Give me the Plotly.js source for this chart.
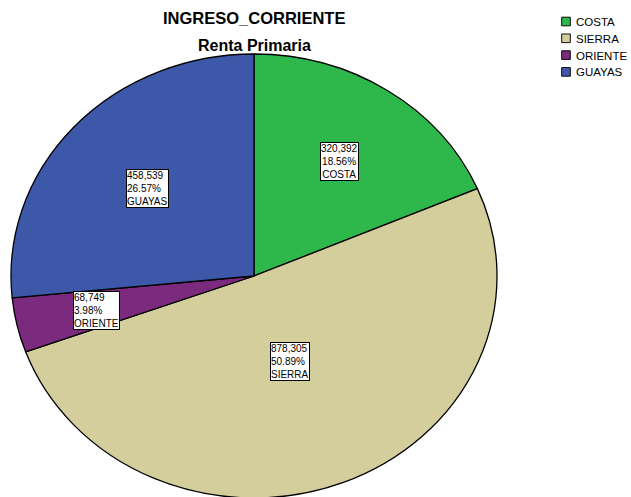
<!DOCTYPE html>
<html>
<head>
<meta charset="utf-8">
<script src="https://cdn.plot.ly/plotly-3.0.1.min.js"></script>
<style>
html,body{margin:0;padding:0;background:#fff;}
#chart{width:631px;height:497px;}
</style>
</head>
<body>
<div id="chart"></div>
<script>
// Data
var regions = ["COSTA", "SIERRA", "ORIENTE", "GUAYAS"];
var values = [320392, 878305, 68749, 458539];
var colors = ["#2eb84b", "#d3ce9b", "#7b2a7d", "#3e58a9"];

// Label box centres (pixels) – layout only
var labelPos = [[339, 161], [290, 361], [97, 310], [147, 188]];
var labelAlign = ["center", "left", "left", "left"];

var W = 631, H = 497;
var total = values.reduce(function(a, b){ return a + b; }, 0);
function fmt(v){ return v.toString().replace(/\B(?=(\d{3})+(?!\d))/g, ","); }

var FONT = "Arial, Liberation Sans, sans-serif";
var annotations = [
  {text: "<b>INGRESO_CORRIENTE</b>", x: 254 / W, y: 1 - 18 / H, xref: "paper", yref: "paper",
   xanchor: "center", yanchor: "middle", showarrow: false,
   font: {family: FONT, size: 16.5, color: "#000"}},
  {text: "<b>Renta Primaria</b>", x: 254 / W, y: 1 - 45 / H, xref: "paper", yref: "paper",
   xanchor: "center", yanchor: "middle", showarrow: false,
   font: {family: FONT, size: 16, color: "#000"}}
];
regions.forEach(function(r, i){
  var pct = (values[i] / total * 100).toFixed(2) + "%";
  annotations.push({
    text: fmt(values[i]) + "<br>" + pct + "<br>" + r,
    x: labelPos[i][0] / W, y: 1 - labelPos[i][1] / H,
    xref: "paper", yref: "paper", xanchor: "center", yanchor: "middle",
    align: labelAlign[i], showarrow: false,
    bgcolor: "#ffffff", bordercolor: "#000000", borderwidth: 1, borderpad: 0,
    font: {family: FONT, size: 10, color: "#000"}
  });
});

var cx = 254, cy = 276, rx = 243, ry = 222;
var trace = {
  type: "pie",
  labels: regions,
  values: values,
  sort: false,
  direction: "clockwise",
  rotation: 0,
  textinfo: "none",
  hoverinfo: "label+value+percent",
  marker: {colors: colors, line: {color: "#000000", width: 1.3}},
  domain: {x: [(cx - rx) / W, (cx + rx) / W], y: [0, (2 * rx) / H]}
};

var layout = {
  width: W, height: H,
  margin: {l: 0, r: 0, t: 0, b: 0, autoexpand: false},
  paper_bgcolor: "#ffffff",
  showlegend: true,
  legend: {
    x: 536 / W, y: 1 - 7 / H, xanchor: "left", yanchor: "top",
    font: {family: FONT, size: 11.5, color: "#000"},
    bgcolor: "rgba(0,0,0,0)", tracegroupgap: 0
  },
  annotations: annotations
};

Plotly.newPlot("chart", [trace], layout, {staticPlot: true}).then(function(gd){
  // squash the circular pie into the reference's ellipse
  var s = ry / rx;
  var domainCy = H - rx; // centre of circle in px from top
  var ty = cy - domainCy * s;
  var layer = gd.querySelector(".pielayer");
  if (layer) {
    layer.setAttribute("transform", "matrix(1,0,0," + s + ",0," + ty + ")");
    layer.querySelectorAll("path").forEach(function(p){ p.style.vectorEffect = "non-scaling-stroke"; });
  }
  // tighten legend row spacing and shrink symbols to match reference
  var items = gd.querySelectorAll(".legend .traces");
  var first = null;
  items.forEach(function(it, k){
    var m = /translate\(([-\d.]+),\s*([-\d.]+)\)/.exec(it.getAttribute("transform") || "");
    if (!m) return;
    if (first === null) first = parseFloat(m[2]);
    it.setAttribute("transform", "translate(" + m[1] + "," + (first + k * 16.8) + ")");
    var lp = it.querySelector(".legendpoints");
    if (lp) {
      var bb = lp.getBBox();
      var bx = bb.x + bb.width / 2, by = bb.y + bb.height / 2;
      var prev = lp.getAttribute("transform") || "";
      lp.setAttribute("transform", prev + " translate(" + (bx + 10) + "," + by + ") scale(0.72) translate(" + (-bx) + "," + (-by) + ")");
    }
  });
});
</script>
</body>
</html>
